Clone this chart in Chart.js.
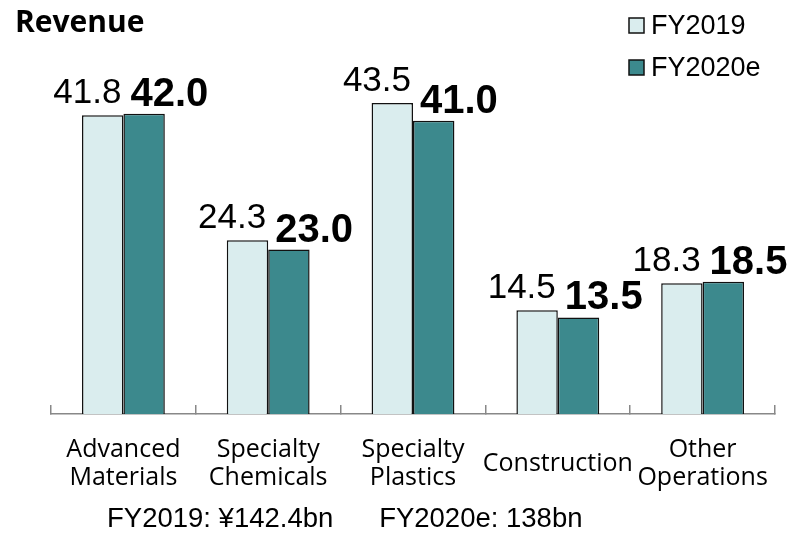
<!DOCTYPE html>
<html><head><meta charset="utf-8">
<script src="https://cdn.jsdelivr.net/npm/chart.js@4.4.1/dist/chart.umd.min.js"></script>
<style>html,body{margin:0;padding:0;background:#fff}</style>
</head><body>
<canvas id="c" width="800" height="537"></canvas>
<script>
const categories = [["Advanced","Materials"],["Specialty","Chemicals"],["Specialty","Plastics"],"Construction",["Other","Operations"]];
const seriesNames = ["FY2019","FY2020e"];
const fy2019 = [41.8, 24.3, 43.5, 14.5, 18.3];
const fy2020e = [42.0, 23.0, 41.0, 13.5, 18.5];
const titleText = "Revenue";
const footerText = "FY2019: \u00A5142.4bn      FY2020e: 138bn";
const yMax = 50;

const fillColors = ["#daedee", "#3c898d"];
const arial = "'Liberation Sans', Arial, sans-serif";

const valueLabels = {
  id: 'valueLabels',
  afterDatasetsDraw(chart) {
    const ctx = chart.ctx;
    ctx.save();
    ctx.fillStyle = '#000';
    ctx.textBaseline = 'alphabetic';
    chart.data.datasets.forEach((ds, di) => {
      const meta = chart.getDatasetMeta(di);
      meta.data.forEach((bar, i) => {
        const v = ds.data[i].toFixed(1);
        if (di === 0) {
          ctx.font = "35px " + arial;
          ctx.textAlign = 'right';
          ctx.fillText(v, bar.x + bar.width / 2 - 2, bar.y - 12);
        } else {
          ctx.font = "bold 40px " + arial;
          ctx.textAlign = 'left';
          ctx.fillText(v, bar.x - bar.width / 2 + 7, bar.y - 8);
        }
      });
    });
    ctx.restore();
  }
};

const sideLegend = {
  id: 'sideLegend',
  afterDraw(chart) {
    const ctx = chart.ctx;
    ctx.save();
    ctx.font = "27px " + arial;
    ctx.textBaseline = 'middle';
    ctx.textAlign = 'left';
    chart.data.datasets.forEach((ds, di) => {
      const cy = 26 + di * 42;
      ctx.fillStyle = ds.backgroundColor;
      ctx.fillRect(629, cy - 8, 15, 15);
      ctx.strokeStyle = '#111';
      ctx.lineWidth = 1.5;
      ctx.strokeRect(629, cy - 8, 15, 15);
      ctx.fillStyle = '#000';
      ctx.fillText(ds.label, 651, cy + 1);
    });
    ctx.restore();
  }
};

const footer = {
  id: 'footer',
  afterDraw(chart) {
    const ctx = chart.ctx;
    ctx.save();
    ctx.font = "27.5px " + arial;
    ctx.fillStyle = '#000';
    ctx.textAlign = 'left';
    ctx.textBaseline = 'alphabetic';
    ctx.fillText(footerText, 107, 527);
    ctx.restore();
  }
};

new Chart(document.getElementById('c'), {
  type: 'bar',
  data: {
    labels: categories,
    datasets: [
      { label: seriesNames[0], data: fy2019, backgroundColor: fillColors[0], borderColor: '#111', borderWidth: 1.5 },
      { label: seriesNames[1], data: fy2020e, backgroundColor: fillColors[1], borderColor: '#111', borderWidth: 1.5 }
    ]
  },
  options: {
    responsive: false,
    animation: false,
    devicePixelRatio: 1,
    layout: { padding: { left: 15, right: 25, top: 0, bottom: 13 } },
    datasets: { bar: { categoryPercentage: 0.572, barPercentage: 1.0 } },
    plugins: {
      legend: { display: false },
      tooltip: { enabled: false },
      title: {
        display: true, text: titleText, align: 'start', color: '#000',
        font: { family: "'Open Sans', sans-serif", size: 30, weight: 'bold', lineHeight: 1.2 },
        padding: { top: 5, bottom: 15.5 }
      }
    },
    scales: {
      x: {
        grid: { display: true, drawOnChartArea: false, drawTicks: true, tickLength: -9, offset: true, color: '#888', lineWidth: 1.5 },
        border: { display: true, color: '#888', width: 1.5 },
        ticks: {
          color: '#000', autoSkip: false, maxRotation: 0, minRotation: 0, padding: 45, crossAlign: 'center',
          font: { family: "'Open Sans', sans-serif", size: 25, lineHeight: 1.1 }
        },
        afterFit: s => { s.height = 110; s.paddingLeft = 0; s.paddingRight = 0; }
      },
      y: {
        min: 0, max: yMax, display: true,
        ticks: { display: false },
        grid: { display: false },
        border: { display: false },
        afterFit: s => { s.width = 36; }
      }
    }
  },
  plugins: [valueLabels, sideLegend, footer]
});
</script>
</body></html>
